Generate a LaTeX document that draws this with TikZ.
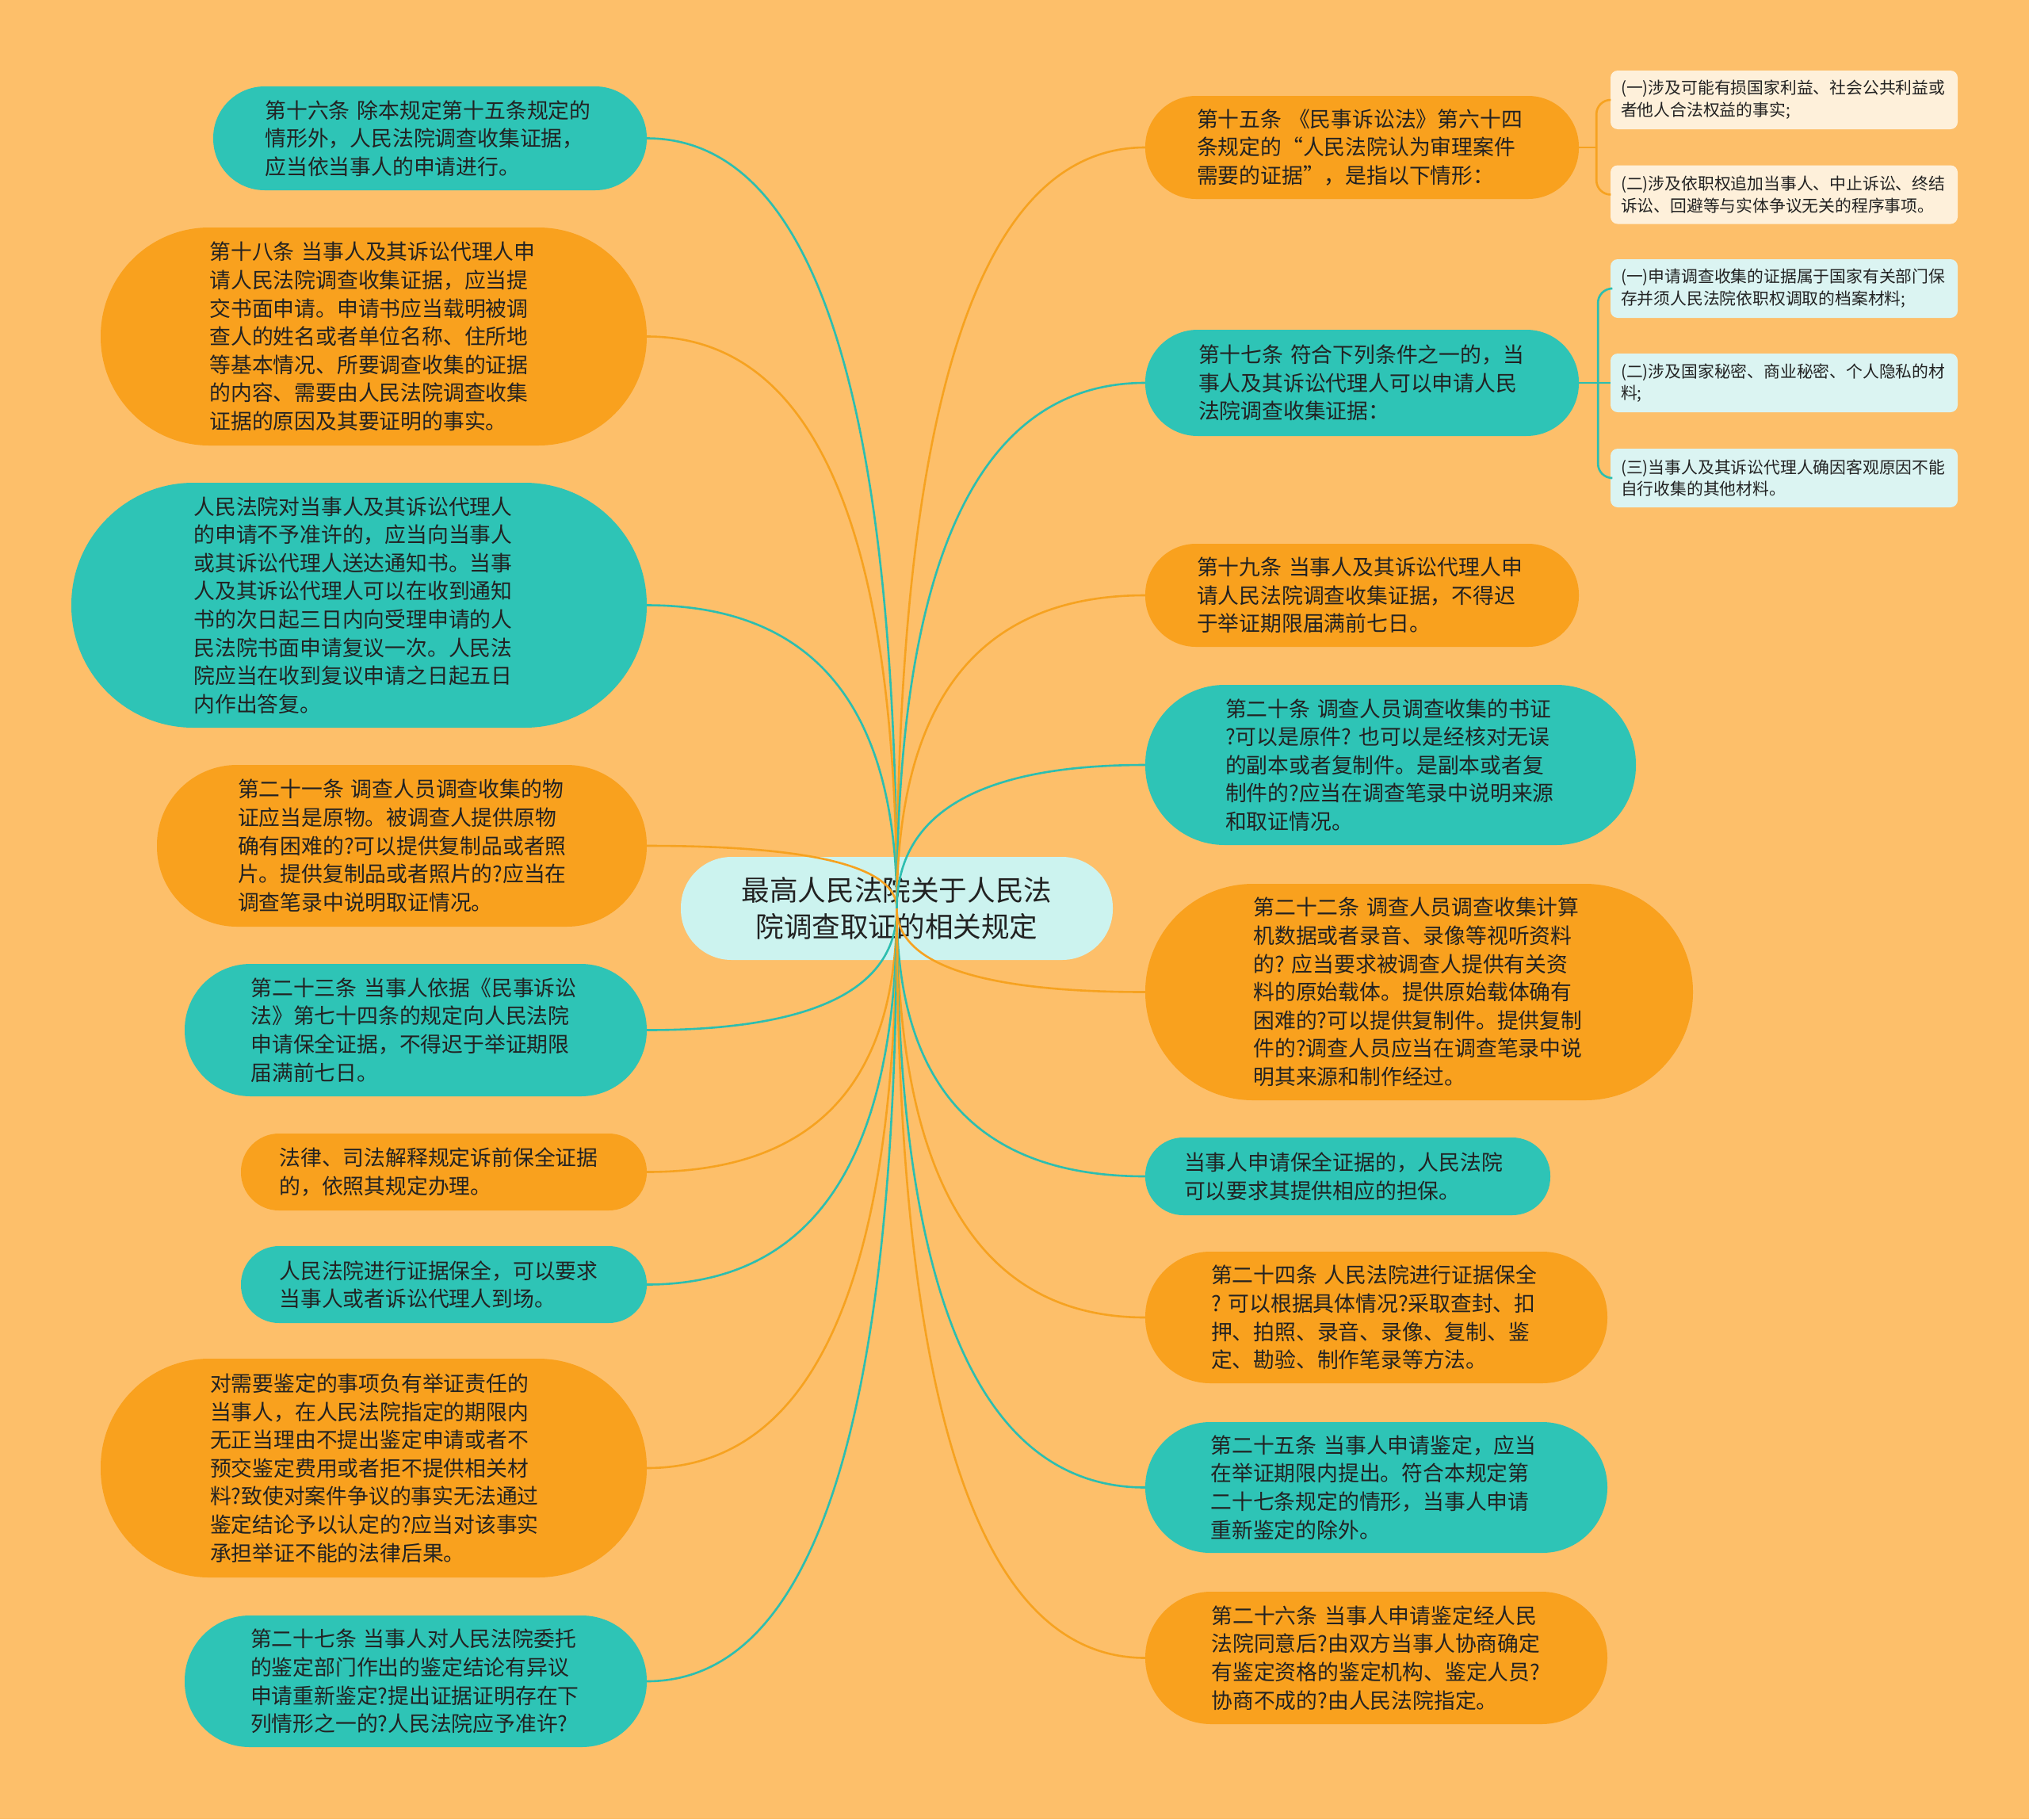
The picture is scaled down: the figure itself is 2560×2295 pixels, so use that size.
\documentclass[tikz,border=0pt]{standalone}
\usepackage{fontspec}
\setmainfont{Noto Sans CJK SC}
\usetikzlibrary{calc}
\definecolor{bgc}{RGB}{253,191,106}
\definecolor{orn}{RGB}{249,161,30}
\definecolor{tea}{RGB}{46,196,182}
\definecolor{olin}{RGB}{246,162,32}
\definecolor{tlin}{RGB}{44,190,176}
\definecolor{rootc}{RGB}{204,243,239}
\definecolor{subo}{RGB}{254,240,218}
\definecolor{subt}{RGB}{219,244,242}
\definecolor{txt}{RGB}{34,34,34}
\tikzset{
  base/.style={inner sep=0pt, align=left, text=txt, font=\fontsize{26.8}{35.6}\selectfont},
  onode/.style={base, fill=orn},
  tnode/.style={base, fill=tea},
  rootn/.style={inner sep=0pt, align=center, text=txt, fill=rootc, font=\fontsize{35.6}{46}\selectfont},
  subnode/.style={inner xsep=13, inner ysep=0pt, text width=412, align=left, text=txt, minimum width=438, minimum height=74, rounded corners=9, font=\fontsize{20.8}{27.7}\selectfont},
  olink/.style={draw=olin, line width=2.6},
  tlink/.style={draw=tlin, line width=2.6},
}
\newcommand\mmlink[3]{%
  \coordinate (k#1) at (root.center |- #1.#2);
  \draw[#3] (root.center) .. controls ($(root.center)!0.6667!(k#1)$) and ($(#1.#2)!0.6667!(k#1)$) .. (#1.#2);}
\begin{document}
\begin{tikzpicture}[x=1pt, y=-1pt]
\fill[bgc] (0,0) rectangle (2560,2295);
\useasboundingbox (0,0) rectangle (2560,2295);

% root
\node[rootn, minimum width=545, minimum height=130, rounded corners=64] (root) at (1131.5,1146) {最高人民法院关于人民法\\院调查取证的相关规定};

% left nodes
\node[tnode, minimum width=547, minimum height=131, rounded corners=65, text width=416] (L1) at (542.5,174.5) {第十六条~除本规定第十五条规定的\\情形外，人民法院调查收集证据，\\应当依当事人的申请进行。};
\node[onode, minimum width=689, minimum height=275, rounded corners=137, text width=414] (L2) at (471.5,424.5) {第十八条~当事人及其诉讼代理人申\\请人民法院调查收集证据，应当提\\交书面申请。申请书应当载明被调\\查人的姓名或者单位名称、住所地\\等基本情况、所要调查收集的证据\\的内容、需要由人民法院调查收集\\证据的原因及其要证明的事实。};
\node[tnode, minimum width=726, minimum height=309, rounded corners=154, text width=417] (L3) at (453,763.5) {人民法院对当事人及其诉讼代理人\\的申请不予准许的，应当向当事人\\或其诉讼代理人送达通知书。当事\\人及其诉讼代理人可以在收到通知\\书的次日起三日内向受理申请的人\\民法院书面申请复议一次。人民法\\院应当在收到复议申请之日起五日\\内作出答复。};
\node[onode, minimum width=618, minimum height=204, rounded corners=101, text width=414] (L4) at (507,1067) {第二十一条~调查人员调查收集的物\\证应当是原物。被调查人提供原物\\确有困难的?可以提供复制品或者照\\片。提供复制品或者照片的?应当在\\调查笔录中说明取证情况。};
\node[tnode, minimum width=583, minimum height=167, rounded corners=83, text width=416] (L5) at (524.5,1299.5) {第二十三条~当事人依据《民事诉讼\\法》第七十四条的规定向人民法院\\申请保全证据，不得迟于举证期限\\届满前七日。};
\node[onode, minimum width=512, minimum height=97, rounded corners=48, text width=415] (L6) at (560,1478.5) {法律、司法解释规定诉前保全证据\\的，依照其规定办理。};
\node[tnode, minimum width=512, minimum height=97, rounded corners=48, text width=415] (L7) at (560,1620.5) {人民法院进行证据保全，可以要求\\当事人或者诉讼代理人到场。};
\node[onode, minimum width=689, minimum height=276, rounded corners=137, text width=413] (L8) at (471.5,1852) {对需要鉴定的事项负有举证责任的\\当事人，在人民法院指定的期限内\\无正当理由不提出鉴定申请或者不\\预交鉴定费用或者拒不提供相关材\\料?致使对案件争议的事实无法通过\\鉴定结论予以认定的?应当对该事实\\承担举证不能的法律后果。};
\node[tnode, minimum width=583, minimum height=166, rounded corners=82, text width=417] (L9) at (524.5,2121) {第二十七条~当事人对人民法院委托\\的鉴定部门作出的鉴定结论有异议\\申请重新鉴定?提出证据证明存在下\\列情形之一的?人民法院应予准许?};

% right nodes
\node[onode, minimum width=547, minimum height=130, rounded corners=64, text width=417] (R1) at (1718.5,186) {第十五条~《民事诉讼法》第六十四\\条规定的“人民法院认为审理案件\\需要的证据”，是指以下情形：};
\node[tnode, minimum width=547, minimum height=134, rounded corners=66, text width=413] (R2) at (1718.5,483) {第十七条~符合下列条件之一的，当\\事人及其诉讼代理人可以申请人民\\法院调查收集证据：};
\node[onode, minimum width=547, minimum height=130, rounded corners=64, text width=417] (R3) at (1718.5,751) {第十九条~当事人及其诉讼代理人申\\请人民法院调查收集证据，不得迟\\于举证期限届满前七日。};
\node[tnode, minimum width=619, minimum height=202, rounded corners=100, text width=417] (R4) at (1754.5,965) {第二十条~调查人员调查收集的书证\\?可以是原件?~也可以是经核对无误\\的副本或者复制件。是副本或者复\\制件的?应当在调查笔录中说明来源\\和取证情况。};
\node[onode, minimum width=691, minimum height=273, rounded corners=136, text width=418] (R5) at (1790.5,1251.5) {第二十二条~调查人员调查收集计算\\机数据或者录音、录像等视听资料\\的?~应当要求被调查人提供有关资\\料的原始载体。提供原始载体确有\\困难的?可以提供复制件。提供复制\\件的?调查人员应当在调查笔录中说\\明其来源和制作经过。};
\node[tnode, minimum width=511, minimum height=98, rounded corners=48, text width=413] (R6) at (1700.5,1484) {当事人申请保全证据的，人民法院\\可以要求其提供相应的担保。};
\node[onode, minimum width=583, minimum height=166, rounded corners=82, text width=417] (R7) at (1736.5,1662) {第二十四条~人民法院进行证据保全\\?~可以根据具体情况?采取查封、扣\\押、拍照、录音、录像、复制、鉴\\定、勘验、制作笔录等方法。};
\node[tnode, minimum width=583, minimum height=165, rounded corners=82, text width=418] (R8) at (1736.5,1876.5) {第二十五条~当事人申请鉴定，应当\\在举证期限内提出。符合本规定第\\二十七条规定的情形，当事人申请\\重新鉴定的除外。};
\node[onode, minimum width=583, minimum height=167, rounded corners=83, text width=416] (R9) at (1736.5,2091.5) {第二十六条~当事人申请鉴定经人民\\法院同意后?由双方当事人协商确定\\有鉴定资格的鉴定机构、鉴定人员?\\协商不成的?由人民法院指定。};

% sub nodes
\node[subnode, fill=subo] (S1a) at (2251,126) {(一)涉及可能有损国家利益、社会公共利益或\\者他人合法权益的事实;};
\node[subnode, fill=subo] (S1b) at (2251,245.5) {(二)涉及依职权追加当事人、中止诉讼、终结\\诉讼、回避等与实体争议无关的程序事项。};
\node[subnode, fill=subt] (S2a) at (2251,364) {(一)申请调查收集的证据属于国家有关部门保\\存并须人民法院依职权调取的档案材料;};
\node[subnode, fill=subt] (S2b) at (2251,483) {(二)涉及国家秘密、商业秘密、个人隐私的材\\料;};
\node[subnode, fill=subt] (S2c) at (2251,603) {(三)当事人及其诉讼代理人确因客观原因不能\\自行收集的其他材料。};

% connectors from root
\mmlink{L1}{east}{tlink}
\mmlink{L2}{east}{olink}
\mmlink{L3}{east}{tlink}
\mmlink{L4}{east}{olink}
\mmlink{L5}{east}{tlink}
\mmlink{L6}{east}{olink}
\mmlink{L7}{east}{tlink}
\mmlink{L8}{east}{olink}
\mmlink{L9}{east}{tlink}
\mmlink{R1}{west}{olink}
\mmlink{R2}{west}{tlink}
\mmlink{R3}{west}{olink}
\mmlink{R4}{west}{tlink}
\mmlink{R5}{west}{olink}
\mmlink{R6}{west}{tlink}
\mmlink{R7}{west}{olink}
\mmlink{R8}{west}{tlink}
\mmlink{R9}{west}{olink}

% sub connectors
\coordinate (j1) at ($(R1.east)+(22,0)$);
\coordinate (j2) at ($(R2.east)+(24,0)$);
\draw[olink] (R1.east) -- (j1);
\draw[olink, rounded corners=18] (j1) |- (S1a.west);
\draw[olink, rounded corners=18] (j1) |- (S1b.west);
\draw[tlink] (R2.east) -- (j2);
\draw[tlink, rounded corners=18] (j2) |- (S2a.west);
\draw[tlink] (j2) -- (S2b.west);
\draw[tlink, rounded corners=18] (j2) |- (S2c.west);
\end{tikzpicture}
\end{document}
